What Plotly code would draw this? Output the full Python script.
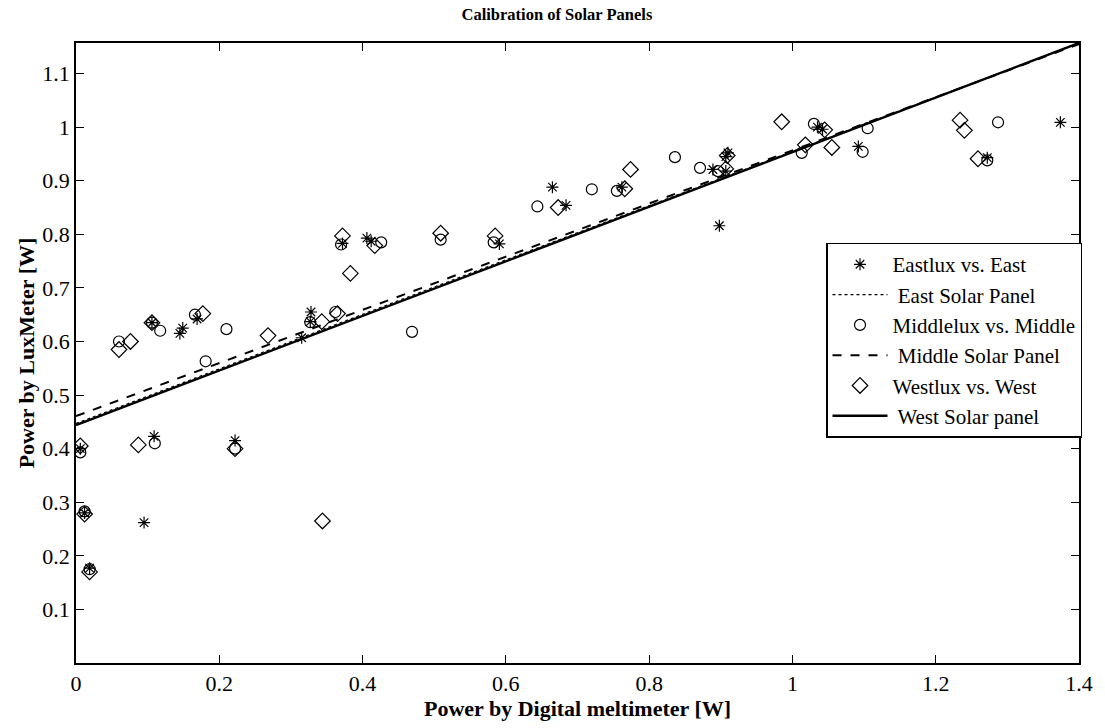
import plotly.graph_objects as go

# ---- data ----
east_x = [0.006, 0.012, 0.019, 0.095, 0.106, 0.109, 0.145, 0.149, 0.169, 0.222,
          0.315, 0.327, 0.328, 0.372, 0.406, 0.412, 0.591, 0.665, 0.684, 0.762,
          0.889, 0.898, 0.907, 0.910, 0.907, 1.035, 1.042, 1.092, 1.272, 1.374]
east_y = [0.400, 0.280, 0.177, 0.262, 0.635, 0.423, 0.615, 0.625, 0.642, 0.415,
          0.607, 0.637, 0.655, 0.783, 0.793, 0.787, 0.782, 0.888, 0.854, 0.888,
          0.921, 0.816, 0.945, 0.952, 0.918, 1.000, 0.996, 0.964, 0.943, 1.009]

middle_x = [0.006, 0.012, 0.019, 0.060, 0.106, 0.110, 0.1175, 0.166, 0.181, 0.210,
            0.222, 0.327, 0.362, 0.370, 0.426, 0.469, 0.509, 0.583, 0.644, 0.720,
            0.755, 0.836, 0.871, 0.896, 1.013, 1.030, 1.098, 1.105, 1.272, 1.287]
middle_y = [0.393, 0.283, 0.175, 0.600, 0.635, 0.410, 0.620, 0.650, 0.563, 0.623,
            0.400, 0.636, 0.655, 0.781, 0.785, 0.618, 0.790, 0.785, 0.852, 0.884,
            0.881, 0.944, 0.924, 0.918, 0.952, 1.006, 0.954, 0.998, 0.938, 1.009]

west_x = [0.006, 0.012, 0.019, 0.060, 0.076, 0.087, 0.106, 0.177, 0.222, 0.268,
          0.343, 0.344, 0.365, 0.372, 0.383, 0.417, 0.509, 0.585, 0.673, 0.766,
          0.774, 0.907, 0.909, 0.985, 1.018, 1.045, 1.055, 1.234, 1.240, 1.259]
west_y = [0.405, 0.278, 0.170, 0.585, 0.600, 0.407, 0.635, 0.652, 0.400, 0.611,
          0.637, 0.265, 0.652, 0.797, 0.727, 0.779, 0.802, 0.797, 0.850, 0.885,
          0.921, 0.922, 0.947, 1.010, 0.967, 0.995, 0.962, 1.013, 0.994, 0.941]

fit_x = [0.0, 0.542, 1.4]
east_fit = [0.447, 0.723, 1.157]
middle_fit = [0.4606, 0.729, 1.155]
west_fit = [0.444, 0.720, 1.157]

x_ticks = [0, 0.2, 0.4, 0.6, 0.8, 1.0, 1.2, 1.4]
x_tick_text = ["0", "0.2", "0.4", "0.6", "0.8", "1", "1.2", "1.4"]
y_ticks = [0.1, 0.2, 0.3, 0.4, 0.5, 0.6, 0.7, 0.8, 0.9, 1.0, 1.1]
y_tick_text = ["0.1", "0.2", "0.3", "0.4", "0.5", "0.6", "0.7", "0.8", "0.9", "1", "1.1"]

FONT = "Liberation Serif"

fig = go.Figure()
fig.add_trace(go.Scatter(x=east_x, y=east_y, mode="markers", name="Eastlux vs. East",
                         marker=dict(symbol="asterisk-open", size=10, color="black",
                                     line=dict(color="black", width=1.2))))
fig.add_trace(go.Scatter(x=fit_x, y=east_fit, mode="lines", name=" East Solar Panel",
                         line=dict(color="black", width=1.2, dash="dot")))
fig.add_trace(go.Scatter(x=middle_x, y=middle_y, mode="markers", name="Middlelux vs. Middle",
                         marker=dict(symbol="circle-open", size=11, color="black",
                                     line=dict(color="black", width=1.2))))
fig.add_trace(go.Scatter(x=fit_x, y=middle_fit, mode="lines", name=" Middle Solar Panel",
                         line=dict(color="black", width=2, dash="dash")))
fig.add_trace(go.Scatter(x=west_x, y=west_y, mode="markers", name="Westlux vs. West",
                         marker=dict(symbol="diamond-open", size=12, color="black",
                                     line=dict(color="black", width=1.2))))
fig.add_trace(go.Scatter(x=fit_x, y=west_fit, mode="lines", name=" West Solar panel",
                         line=dict(color="black", width=2.5)))

fig.update_layout(
    width=1105, height=728,
    margin=dict(l=76, r=20, t=43, b=54),
    paper_bgcolor="white", plot_bgcolor="white",
    font=dict(family=FONT, size=22, color="black"),
    title=dict(text="<b>Calibration of Solar Panels</b>", x=0.504, xanchor="center",
               y=0.988, yanchor="top", font=dict(family=FONT, size=16.5)),
    showlegend=True,
    legend=dict(x=1.003, xanchor="right", y=0.678, yanchor="top",
                bgcolor="white", bordercolor="black", borderwidth=1.5,
                font=dict(family=FONT, size=21), tracegroupgap=0, itemwidth=55),
)
fig.update_xaxes(range=[0, 1.4], tickvals=x_ticks, ticktext=x_tick_text,
                 ticks="inside", ticklen=8, tickcolor="black", tickwidth=1,
                 showline=True, linecolor="black", linewidth=1.5, mirror="ticks",
                 showgrid=False, zeroline=False,
                 tickfont=dict(family=FONT, size=22),
                 title=dict(text="<b>Power by Digital meltimeter [W]</b>", standoff=4,
                            font=dict(family=FONT, size=22)))
fig.update_yaxes(range=[0, 1.157], tickvals=y_ticks, ticktext=y_tick_text,
                 ticks="inside", ticklen=8, tickcolor="black", tickwidth=1,
                 showline=True, linecolor="black", linewidth=1.5, mirror="ticks",
                 showgrid=False, zeroline=False,
                 tickfont=dict(family=FONT, size=22),
                 title=dict(text="<b>Power by LuxMeter [W]</b>", standoff=2,
                            font=dict(family=FONT, size=22)))

fig.write_html("out.html")
